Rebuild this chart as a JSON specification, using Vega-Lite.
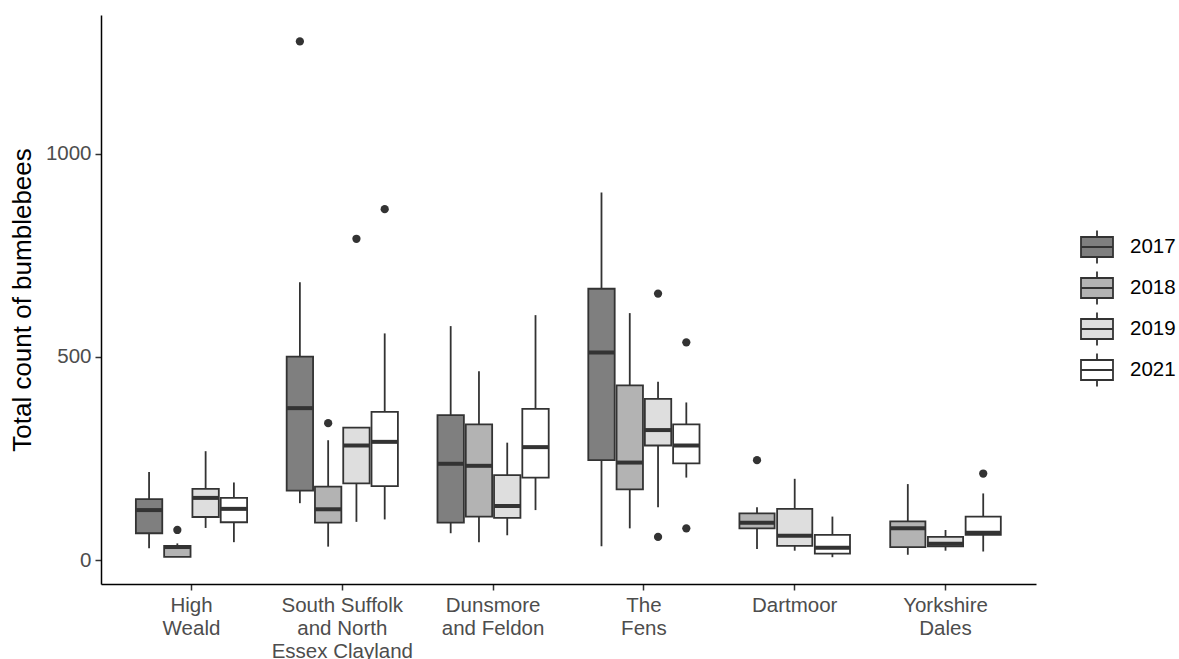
{
  "$schema": "https://vega.github.io/schema/vega-lite/v6.json",
  "width": 935,
  "height": 569,
  "autosize": {"type": "none"},
  "padding": {"left": 101, "top": 15, "right": 143, "bottom": 75},
  "background": "white",
  "config": {
    "view": {"stroke": null},
    "font": "Liberation Sans",
    "axis": {
      "domainColor": "black",
      "domainWidth": 1.5,
      "tickColor": "#333333",
      "tickWidth": 1.5,
      "tickSize": 6,
      "labelColor": "#4d4d4d",
      "labelFontSize": 20.5,
      "labelFont": "Liberation Sans",
      "titleFont": "Liberation Sans",
      "titleFontSize": 26,
      "titleFontWeight": "normal",
      "titleColor": "black",
      "grid": false
    }
  },
  "datasets": {
    "boxes": [
      {"site": "High Weald", "year": "2017", "lower": 29, "q1": 66, "median": 123, "q3": 150, "upper": 217},
      {"site": "High Weald", "year": "2018", "lower": 8, "q1": 8, "median": 32, "q3": 35, "upper": 41},
      {"site": "High Weald", "year": "2019", "lower": 79, "q1": 106, "median": 153, "q3": 175, "upper": 268},
      {"site": "High Weald", "year": "2021", "lower": 44, "q1": 93, "median": 126, "q3": 153, "upper": 191},
      {"site": "South Suffolk and North Essex Clayland", "year": "2017", "lower": 140, "q1": 171, "median": 374, "q3": 501, "upper": 684},
      {"site": "South Suffolk and North Essex Clayland", "year": "2018", "lower": 33, "q1": 92, "median": 125, "q3": 181, "upper": 295},
      {"site": "South Suffolk and North Essex Clayland", "year": "2019", "lower": 94, "q1": 189, "median": 282, "q3": 326, "upper": 326},
      {"site": "South Suffolk and North Essex Clayland", "year": "2021", "lower": 100, "q1": 182, "median": 291, "q3": 365, "upper": 558},
      {"site": "Dunsmore and Feldon", "year": "2017", "lower": 66, "q1": 92, "median": 237, "q3": 357, "upper": 576},
      {"site": "Dunsmore and Feldon", "year": "2018", "lower": 44, "q1": 107, "median": 232, "q3": 334, "upper": 465},
      {"site": "Dunsmore and Feldon", "year": "2019", "lower": 61, "q1": 104, "median": 133, "q3": 209, "upper": 289},
      {"site": "Dunsmore and Feldon", "year": "2021", "lower": 123, "q1": 203, "median": 278, "q3": 372, "upper": 603},
      {"site": "The Fens", "year": "2017", "lower": 34, "q1": 246, "median": 511, "q3": 668, "upper": 905},
      {"site": "The Fens", "year": "2018", "lower": 78, "q1": 174, "median": 240, "q3": 430, "upper": 608},
      {"site": "The Fens", "year": "2019", "lower": 130, "q1": 282, "median": 320, "q3": 397, "upper": 439},
      {"site": "The Fens", "year": "2021", "lower": 203, "q1": 238, "median": 282, "q3": 334, "upper": 388},
      {"site": "Dartmoor", "year": "2018", "lower": 27, "q1": 78, "median": 92, "q3": 115, "upper": 130},
      {"site": "Dartmoor", "year": "2019", "lower": 23, "q1": 35, "median": 60, "q3": 126, "upper": 200},
      {"site": "Dartmoor", "year": "2021", "lower": 7, "q1": 16, "median": 30, "q3": 62, "upper": 107},
      {"site": "Yorkshire Dales", "year": "2018", "lower": 13, "q1": 32, "median": 78, "q3": 95, "upper": 187},
      {"site": "Yorkshire Dales", "year": "2019", "lower": 23, "q1": 34, "median": 40, "q3": 57, "upper": 74},
      {"site": "Yorkshire Dales", "year": "2021", "lower": 21, "q1": 62, "median": 67, "q3": 107, "upper": 164}
    ],
    "outliers": [
      {"site": "High Weald", "year": "2018", "count": 74},
      {"site": "South Suffolk and North Essex Clayland", "year": "2017", "count": 1277},
      {"site": "South Suffolk and North Essex Clayland", "year": "2018", "count": 337},
      {"site": "South Suffolk and North Essex Clayland", "year": "2019", "count": 791},
      {"site": "South Suffolk and North Essex Clayland", "year": "2021", "count": 864},
      {"site": "The Fens", "year": "2019", "count": 656},
      {"site": "The Fens", "year": "2019", "count": 57},
      {"site": "The Fens", "year": "2021", "count": 536},
      {"site": "The Fens", "year": "2021", "count": 78},
      {"site": "Dartmoor", "year": "2018", "count": 246},
      {"site": "Yorkshire Dales", "year": "2021", "count": 213}
    ]
  },
  "encoding": {
    "x": {
      "field": "site",
      "type": "nominal",
      "sort": ["High Weald", "South Suffolk and North Essex Clayland", "Dunsmore and Feldon", "The Fens", "Dartmoor", "Yorkshire Dales"],
      "scale": {"paddingInner": 0, "paddingOuter": 0.1},
      "title": null,
      "axis": {
        "labelAngle": 0,
        "labelPadding": 5,
        "labelLineHeight": 23,
        "labelBaseline": "top",
        "domainColor": "black",
        "domainWidth": 1.5,
        "tickColor": "#333333",
        "labelExpr": "datum.value == 'High Weald' ? ['High', 'Weald'] : datum.value == 'South Suffolk and North Essex Clayland' ? ['South Suffolk', 'and North', 'Essex Clayland'] : datum.value == 'Dunsmore and Feldon' ? ['Dunsmore', 'and Feldon'] : datum.value == 'The Fens' ? ['The', 'Fens'] : datum.value == 'Yorkshire Dales' ? ['Yorkshire', 'Dales'] : datum.value"
      }
    }
  },
  "layer": [
    {
      "encoding": {
        "xOffset": {
          "field": "year",
          "type": "nominal",
          "scale": {"domain": ["2017", "2018", "2019", "2021"], "paddingInner": 0.0667, "paddingOuter": 0.7}
        }
      },
      "layer": [
        {
          "data": {"name": "boxes"},
          "transform": [{"filter": {"not": {"field": "site", "oneOf": ["Dartmoor", "Yorkshire Dales"]}}}],
          "mark": {"type": "rule", "color": "#333333", "strokeWidth": 1.8},
          "encoding": {
            "y": {"field": "lower", "type": "quantitative", "title": "Total count of bumblebees",
                  "scale": {"domain": [-59, 1342], "nice": false, "zero": false},
                  "axis": {"values": [0, 500, 1000], "format": "d", "labelPadding": 4, "titlePadding": 10}},
            "y2": {"field": "upper"}
          }
        },
        {
          "data": {"name": "boxes"},
          "transform": [{"filter": {"not": {"field": "site", "oneOf": ["Dartmoor", "Yorkshire Dales"]}}}],
          "mark": {"type": "bar", "stroke": "#333333", "strokeWidth": 1.8},
          "encoding": {
            "y": {"field": "q1", "type": "quantitative", "title": "Total count of bumblebees"},
            "y2": {"field": "q3"},
            "fill": {
              "field": "year", "type": "nominal",
              "scale": {"domain": ["2017", "2018", "2019", "2021"], "range": ["#7f7f7f", "#b3b3b3", "#dedede", "#ffffff"]},
              "legend": {
                "title": null, "orient": "none", "legendX": 979, "legendY": 215,
                "symbolType": "M-1,-0.625H1V0.625H-1Z M-1,0H1 M0,-0.625V-1.03 M0,0.625V1.03",
                "symbolSize": 1024, "symbolStrokeColor": "#333333", "symbolStrokeWidth": 1.8, "symbolOpacity": 1,
                "labelFontSize": 20.5, "labelColor": "black", "labelFont": "Liberation Sans",
                "rowPadding": -1, "labelOffset": 16
              }
            }
          }
        },
        {
          "data": {"name": "boxes"},
          "transform": [{"filter": {"not": {"field": "site", "oneOf": ["Dartmoor", "Yorkshire Dales"]}}}],
          "mark": {"type": "tick", "color": "#333333", "size": 26.4, "thickness": 4, "orient": "horizontal", "opacity": 1},
          "encoding": {
            "y": {"field": "median", "type": "quantitative", "title": "Total count of bumblebees"}
          }
        },
        {
          "data": {"name": "outliers"},
          "transform": [{"filter": {"not": {"field": "site", "oneOf": ["Dartmoor", "Yorkshire Dales"]}}}],
          "mark": {"type": "point", "filled": true, "color": "#333333", "size": 68, "opacity": 1},
          "encoding": {
            "y": {"field": "count", "type": "quantitative", "title": "Total count of bumblebees"}
          }
        }
      ]
    },
    {
      "encoding": {
        "xOffset": {
          "field": "year",
          "type": "nominal",
          "scale": {"domain": ["2018", "2019", "2021"], "paddingInner": 0.0667, "paddingOuter": 0.5333}
        }
      },
      "layer": [
        {
          "data": {"name": "boxes"},
          "transform": [{"filter": {"field": "site", "oneOf": ["Dartmoor", "Yorkshire Dales"]}}],
          "mark": {"type": "rule", "color": "#333333", "strokeWidth": 1.8},
          "encoding": {
            "y": {"field": "lower", "type": "quantitative", "title": "Total count of bumblebees"},
            "y2": {"field": "upper"}
          }
        },
        {
          "data": {"name": "boxes"},
          "transform": [{"filter": {"field": "site", "oneOf": ["Dartmoor", "Yorkshire Dales"]}}],
          "mark": {"type": "bar", "stroke": "#333333", "strokeWidth": 1.8},
          "encoding": {
            "y": {"field": "q1", "type": "quantitative", "title": "Total count of bumblebees"},
            "y2": {"field": "q3"},
            "fill": {"field": "year", "type": "nominal"}
          }
        },
        {
          "data": {"name": "boxes"},
          "transform": [{"filter": {"field": "site", "oneOf": ["Dartmoor", "Yorkshire Dales"]}}],
          "mark": {"type": "tick", "color": "#333333", "size": 35.2, "thickness": 4, "orient": "horizontal", "opacity": 1},
          "encoding": {
            "y": {"field": "median", "type": "quantitative", "title": "Total count of bumblebees"}
          }
        },
        {
          "data": {"name": "outliers"},
          "transform": [{"filter": {"field": "site", "oneOf": ["Dartmoor", "Yorkshire Dales"]}}],
          "mark": {"type": "point", "filled": true, "color": "#333333", "size": 68, "opacity": 1},
          "encoding": {
            "y": {"field": "count", "type": "quantitative", "title": "Total count of bumblebees"}
          }
        }
      ]
    }
  ],
  "resolve": {"scale": {"xOffset": "independent"}}
}
